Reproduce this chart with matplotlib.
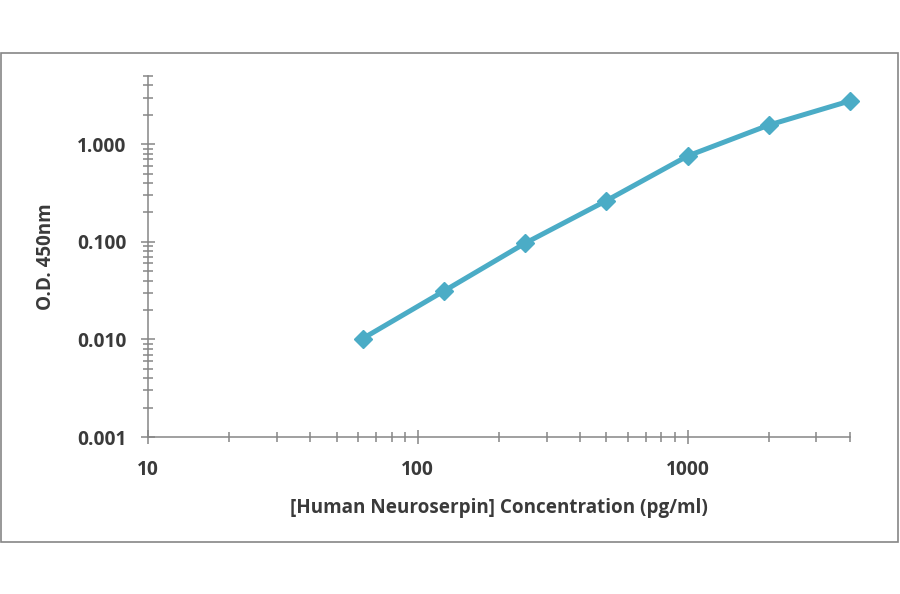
import numpy as np
import matplotlib.pyplot as plt
from matplotlib.patches import Rectangle
from matplotlib.ticker import LogLocator, FixedLocator, FixedFormatter, NullFormatter

# standard curve values
conc = [62.5, 125, 250, 500, 1000, 2000, 4000]
od = [0.0102, 0.0313, 0.0968, 0.264, 0.757, 1.57, 2.78]

x_ticks = [10, 100, 1000]
x_labels = ['10', '100', '1000']
y_ticks = [0.001, 0.01, 0.1, 1.0]
y_labels = ['0.001', '0.010', '0.100', '1.000']

line_col = '#4BACC6'
axis_col = '#868686'
text_col = '#3a3a3a'

plt.rcParams['font.family'] = ['Open Sans', 'DejaVu Sans']

fig = plt.figure(figsize=(9, 5.94), dpi=100)
fig.add_artist(Rectangle((1 / 900, (594 - 542) / 594), 897 / 900, 489 / 594,
                         transform=fig.transFigure, fill=False,
                         edgecolor=axis_col, linewidth=1.2))

ax = fig.add_axes([148 / 900, (594 - 437) / 594, 702 / 900, 361 / 594])
ax.plot(conc, od, color=line_col, linewidth=3.6, marker='D', markersize=9,
        markerfacecolor=line_col, markeredgecolor=line_col, zorder=3,
        clip_on=False)

ax.set_xscale('log')
ax.set_yscale('log')
ax.set_xlim(10, 4000)
ax.set_ylim(0.001, 5)

ax.xaxis.set_major_locator(FixedLocator(x_ticks))
ax.xaxis.set_major_formatter(FixedFormatter(x_labels))
ax.xaxis.set_minor_locator(LogLocator(base=10, subs=np.arange(2, 10)))
ax.xaxis.set_minor_formatter(NullFormatter())
ax.yaxis.set_major_locator(FixedLocator(y_ticks))
ax.yaxis.set_major_formatter(FixedFormatter(y_labels))
ax.yaxis.set_minor_locator(LogLocator(base=10, subs=np.arange(2, 10)))
ax.yaxis.set_minor_formatter(NullFormatter())

for side in ['top', 'right']:
    ax.spines[side].set_visible(False)
for side in ['left', 'bottom']:
    ax.spines[side].set_color(axis_col)
    ax.spines[side].set_linewidth(1.1)

ax.tick_params(which='major', direction='inout', length=10, width=1.1,
               color=axis_col, labelcolor=text_col, labelsize=13.8)
ax.tick_params(axis='x', which='major', pad=11.5)
ax.tick_params(axis='y', which='major', pad=10.5)
ax.tick_params(which='minor', direction='inout', length=7.5, width=1.1,
               color=axis_col)
for lab in ax.get_xticklabels() + ax.get_yticklabels():
    lab.set_fontweight('bold')

ax.set_xlabel('[Human Neuroserpin] Concentration (pg/ml)', fontsize=13.6,
              fontweight='bold', color=text_col, labelpad=13)
ax.set_ylabel('O.D. 450nm', fontsize=13.6, fontweight='bold', color=text_col,
              labelpad=15)

fig.savefig('out.png', dpi=100)
